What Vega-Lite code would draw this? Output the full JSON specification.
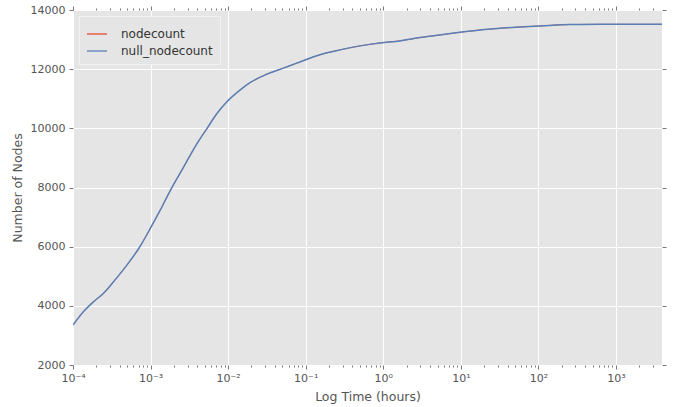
{
  "$schema": "https://vega.github.io/schema/vega-lite/v6.json",
  "width": 589,
  "height": 355,
  "autosize": "none",
  "padding": {"left": 73, "top": 10, "right": 11, "bottom": 42},
  "background": "white",
  "config": {
    "view": {"fill": "#E5E5E5", "stroke": null},
    "font": "DejaVu Sans",
    "axis": {
      "domain": false,
      "gridColor": "white",
      "gridWidth": 1,
      "tickColor": "#777777",
      "labelColor": "#555555",
      "labelFont": "DejaVu Sans",
      "labelFontSize": 11,
      "titleColor": "#555555",
      "titleFont": "DejaVu Sans",
      "titleFontSize": 12.5,
      "titleFontWeight": "normal"
    }
  },
  "data": {
    "values": [
      {"t": 0.0001, "nodecount": 3350, "null_nodecount": 3350},
      {"t": 0.000136, "nodecount": 3800, "null_nodecount": 3800},
      {"t": 0.000183, "nodecount": 4134, "null_nodecount": 4134},
      {"t": 0.000246, "nodecount": 4417, "null_nodecount": 4417},
      {"t": 0.000331, "nodecount": 4807, "null_nodecount": 4807},
      {"t": 0.000492, "nodecount": 5368, "null_nodecount": 5368},
      {"t": 0.000731, "nodecount": 6006, "null_nodecount": 6006},
      {"t": 0.000984, "nodecount": 6600, "null_nodecount": 6600},
      {"t": 0.00132, "nodecount": 7215, "null_nodecount": 7215},
      {"t": 0.00178, "nodecount": 7880, "null_nodecount": 7880},
      {"t": 0.00264, "nodecount": 8669, "null_nodecount": 8669},
      {"t": 0.00393, "nodecount": 9469, "null_nodecount": 9469},
      {"t": 0.0053, "nodecount": 9982, "null_nodecount": 9982},
      {"t": 0.00713, "nodecount": 10495, "null_nodecount": 10495},
      {"t": 0.00958, "nodecount": 10892, "null_nodecount": 10892},
      {"t": 0.0142, "nodecount": 11292, "null_nodecount": 11292},
      {"t": 0.0191, "nodecount": 11542, "null_nodecount": 11542},
      {"t": 0.0314, "nodecount": 11829, "null_nodecount": 11829},
      {"t": 0.0514, "nodecount": 12034, "null_nodecount": 12034},
      {"t": 0.0766, "nodecount": 12205, "null_nodecount": 12205},
      {"t": 0.153, "nodecount": 12489, "null_nodecount": 12489},
      {"t": 0.277, "nodecount": 12652, "null_nodecount": 12652},
      {"t": 0.501, "nodecount": 12787, "null_nodecount": 12787},
      {"t": 0.908, "nodecount": 12888, "null_nodecount": 12888},
      {"t": 1.64, "nodecount": 12955, "null_nodecount": 12955},
      {"t": 2.97, "nodecount": 13067, "null_nodecount": 13067},
      {"t": 5.38, "nodecount": 13158, "null_nodecount": 13158},
      {"t": 9.75, "nodecount": 13248, "null_nodecount": 13248},
      {"t": 17.7, "nodecount": 13326, "null_nodecount": 13326},
      {"t": 32, "nodecount": 13382, "null_nodecount": 13382},
      {"t": 57.9, "nodecount": 13427, "null_nodecount": 13427},
      {"t": 105, "nodecount": 13461, "null_nodecount": 13461},
      {"t": 255, "nodecount": 13510, "null_nodecount": 13510},
      {"t": 622, "nodecount": 13515, "null_nodecount": 13515},
      {"t": 3918, "nodecount": 13515, "null_nodecount": 13515}
    ]
  },
  "transform": [
    {"fold": ["nodecount", "null_nodecount"], "as": ["series", "count"]}
  ],
  "layer": [
    {
      "transform": [{"filter": "datum.series === 'nodecount'"}],
      "mark": {"type": "line", "strokeWidth": 0.8, "clip": true, "interpolate": "monotone"},
      "encoding": {
        "x": {
          "field": "t",
          "type": "quantitative",
          "scale": {"type": "log", "domain": [0.0001, 3918], "nice": false},
          "axis": {
            "orient": "bottom",
            "title": "Log Time (hours)",
            "titlePadding": 7,
            "values": [0.0001,0.0002,0.0003,0.0004,0.0005,0.0006,0.0007,0.0008,0.0009,0.001,0.002,0.003,0.004,0.005,0.006,0.007,0.008,0.009,0.01,0.02,0.03,0.04,0.05,0.06,0.07,0.08,0.09,0.1,0.2,0.3,0.4,0.5,0.6,0.7,0.8,0.9,1,2,3,4,5,6,7,8,9,10,20,30,40,50,60,70,80,90,100,200,300,400,500,600,700,800,900,1000,2000,3000],
            "labelExpr": "abs(log(datum.value)/LN10 - round(log(datum.value)/LN10)) < 0.001 ? ['10⁻⁴','10⁻³','10⁻²','10⁻¹','10⁰','10¹','10²','10³'][round(log(datum.value)/LN10)+4] : ''",
            "labelOverlap": false,
            "labelBound": false,
            "labelFlush": false,
            "labelPadding": 3,
            "gridOpacity": {"condition": {"test": "abs(log(datum.value)/LN10 - round(log(datum.value)/LN10)) < 0.001", "value": 1}, "value": 0},
            "tickSize": {"condition": {"test": "abs(log(datum.value)/LN10 - round(log(datum.value)/LN10)) < 0.001", "value": 4}, "value": 2}
          }
        },
        "y": {
          "field": "count",
          "type": "quantitative",
          "scale": {"domain": [2000, 14000], "nice": false, "zero": false},
          "axis": {
            "orient": "left",
            "title": "Number of Nodes",
            "titlePadding": 6,
            "values": [2000, 4000, 6000, 8000, 10000, 12000, 14000],
            "tickSize": 4,
            "labelPadding": 4,
            "labelBound": false,
            "labelFlush": false,
            "labelOverlap": false,
            "format": "d"
          }
        },
        "color": {
          "field": "series",
          "type": "nominal",
          "scale": {"domain": ["nodecount", "null_nodecount"], "range": ["#E24A33", "#5a7fb5"]},
          "legend": {
            "title": null,
            "orient": "top-left",
            "offset": 6,
            "padding": 7,
            "fillColor": "#E5E5E5",
            "strokeColor": "#F2F2F2",
            "cornerRadius": 0,
            "symbolType": "stroke",
            "symbolSize": 400,
            "symbolStrokeWidth": 1.3,
            "labelFontSize": 12,
            "labelFont": "DejaVu Sans",
            "labelColor": "#333333",
            "labelOffset": 13,
            "rowPadding": 0
          }
        }
      }
    },
    {
      "transform": [{"filter": "datum.series === 'null_nodecount'"}],
      "mark": {"type": "line", "strokeWidth": 1.5, "clip": true, "interpolate": "monotone"},
      "encoding": {
        "x": {
          "field": "t",
          "type": "quantitative",
          "axis": {
            "orient": "top",
            "title": null,
            "labels": false,
            "grid": false,
            "values": [0.0001,0.0002,0.0003,0.0004,0.0005,0.0006,0.0007,0.0008,0.0009,0.001,0.002,0.003,0.004,0.005,0.006,0.007,0.008,0.009,0.01,0.02,0.03,0.04,0.05,0.06,0.07,0.08,0.09,0.1,0.2,0.3,0.4,0.5,0.6,0.7,0.8,0.9,1,2,3,4,5,6,7,8,9,10,20,30,40,50,60,70,80,90,100,200,300,400,500,600,700,800,900,1000,2000,3000],
            "tickSize": {"condition": {"test": "abs(log(datum.value)/LN10 - round(log(datum.value)/LN10)) < 0.001", "value": 4}, "value": 2}
          }
        },
        "y": {
          "field": "count",
          "type": "quantitative",
          "axis": {
            "orient": "right",
            "title": null,
            "labels": false,
            "grid": false,
            "tickSize": 4,
            "values": [2000, 4000, 6000, 8000, 10000, 12000, 14000]
          }
        },
        "color": {"field": "series", "type": "nominal"}
      }
    }
  ],
  "resolve": {"axis": {"x": "independent", "y": "independent"}}
}
